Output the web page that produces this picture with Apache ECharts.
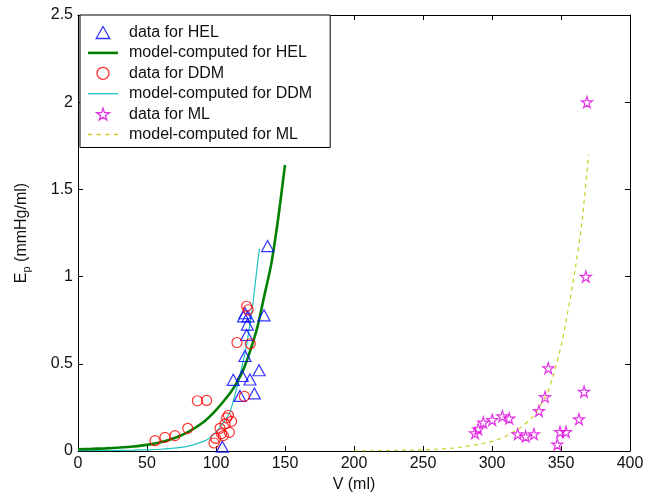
<!DOCTYPE html>
<html>
<head>
<meta charset="utf-8">
<script src="https://cdn.jsdelivr.net/npm/echarts@6/dist/echarts.min.js"></script>
<style>
html,body{margin:0;padding:0;background:#fff;}
#chart{width:650px;height:498px;}
</style>
</head>
<body>
<div id="chart"></div>
<script>
// ---- data ----
var helV  = [137.4, 134.8, 121.0, 120.0, 123.2, 122.7, 122.2, 121.0, 131.2, 119.0, 124.6, 112.5, 127.8, 117.4, 104.6];
var helEp = [1.175, 0.778, 0.790, 0.772, 0.772, 0.725, 0.665, 0.545, 0.463, 0.430, 0.410, 0.408, 0.330, 0.316, 0.025];

var ddmV  = [55.8, 63.0, 70.3, 79.5, 86.5, 93.2, 98.6, 99.8, 102.9, 105.3, 106.5, 107.7, 109.7, 111.3, 109.0, 104.0, 115.2, 124.8, 120.6, 122.2, 123.3];
var ddmEp = [0.059, 0.078, 0.088, 0.130, 0.288, 0.290, 0.046, 0.072, 0.130, 0.088, 0.155, 0.190, 0.107, 0.170, 0.205, 0.100, 0.622, 0.615, 0.313, 0.830, 0.810];

var mlV  = [287.7, 290.0, 293.7, 300.2, 307.5, 312.5, 318.6, 324.4, 330.4, 334.0, 338.4, 340.8, 347.3, 349.3, 353.6, 363.0, 366.7, 368.0, 368.8];
var mlEp = [0.103, 0.126, 0.164, 0.179, 0.200, 0.187, 0.097, 0.084, 0.097, 0.230, 0.310, 0.475, 0.038, 0.110, 0.110, 0.183, 0.340, 1.000, 2.000];

var helCurveV  = [0, 10, 20, 30, 40, 50, 60, 70, 80, 90, 100, 110, 115, 120, 125, 130, 135, 140, 145, 150];
var helCurveEp = [0.010, 0.012, 0.015, 0.020, 0.026, 0.035, 0.050, 0.075, 0.110, 0.160, 0.235, 0.330, 0.390, 0.470, 0.580, 0.710, 0.890, 1.070, 1.330, 1.640];

var ddmCurveV  = [0, 20, 40, 50, 60, 70, 80, 90, 95, 100, 105, 110, 113, 116, 119, 122, 125, 127, 129, 130.5, 131.5];
var ddmCurveEp = [0.002, 0.003, 0.005, 0.007, 0.010, 0.016, 0.028, 0.052, 0.072, 0.110, 0.160, 0.220, 0.300, 0.390, 0.490, 0.600, 0.750, 0.860, 1.000, 1.100, 1.160];

var mlCurveV  = [200, 210, 220, 230, 240, 250, 260, 270, 280, 290, 300, 310, 320, 330, 340, 345, 350, 355, 360, 365, 370];
var mlCurveEp = [0.000, 0.001, 0.002, 0.003, 0.005, 0.007, 0.010, 0.015, 0.025, 0.038, 0.055, 0.085, 0.130, 0.200, 0.330, 0.450, 0.600, 0.800, 1.030, 1.300, 1.700];

var xTicks = {min: 0, max: 400, interval: 50};
var yTicks = {min: 0, max: 2.5, interval: 0.5};

var seriesNames = ['data for HEL', 'model-computed for HEL', 'data for DDM',
                   'model-computed for DDM', 'data for ML', 'model-computed for ML'];

function pairs(xs, ys) { return xs.map(function (x, i) { return [x, ys[i]]; }); }

var STAR = 'path://M50,0 L61,35 L98,35 L68,57 L79,91 L50,70 L21,91 L32,57 L2,35 L39,35 Z';
var TRI = 'path://M50,0 L100,88 L0,88 Z';
var LINE_THICK = 'path://M0,0 L30,0 L30,2.6 L0,2.6 Z';
var LINE_THIN = 'path://M0,0 L30,0 L30,1.3 L0,1.3 Z';
var LINE_DASH = 'path://M0,0 L4,0 L4,1.3 L0,1.3 Z M8.7,0 L12.7,0 L12.7,1.3 L8.7,1.3 Z M17.3,0 L21.3,0 L21.3,1.3 L17.3,1.3 Z M26,0 L30,0 L30,1.3 L26,1.3 Z';
var FONT = 'Liberation Sans, Arial, sans-serif';
var TXT = '#111';
var FS = 16;

var chart = echarts.init(document.getElementById('chart'), null, {renderer: 'canvas'});

function axisCommon(extra) {
  var o = {
    type: 'value',
    axisLine: {show: true, onZero: false, lineStyle: {color: '#000', width: 1}},
    axisTick: {show: true, inside: true, length: 5, lineStyle: {color: '#000'}},
    splitLine: {show: false},
    axisLabel: {color: TXT, fontFamily: FONT, fontSize: FS}
  };
  for (var k in extra) o[k] = extra[k];
  return o;
}

var option = {
  animation: false,
  backgroundColor: '#fff',
  grid: {left: 78, right: 20, top: 15, bottom: 46, containLabel: false},
  xAxis: [
    axisCommon({min: xTicks.min, max: xTicks.max, interval: xTicks.interval, position: 'bottom',
      name: 'V (ml)', nameLocation: 'middle', nameGap: 26,
      nameTextStyle: {color: TXT, fontFamily: FONT, fontSize: FS},
      axisLabel: {color: TXT, fontFamily: FONT, fontSize: FS, margin: 5}}),
    axisCommon({min: xTicks.min, max: xTicks.max, interval: xTicks.interval, position: 'top',
      axisLabel: {show: false}})
  ],
  yAxis: [
    axisCommon({min: yTicks.min, max: yTicks.max, interval: yTicks.interval, position: 'left',
      name: '{a|E}{b|p}{a| (mmHg/ml)}', nameLocation: 'middle', nameGap: 46, nameRotate: 90,
      nameTextStyle: {color: TXT, fontFamily: FONT, fontSize: FS,
        rich: {
          a: {fontFamily: FONT, fontSize: FS, color: TXT, lineHeight: 20},
          b: {fontFamily: FONT, fontSize: 11, color: TXT, lineHeight: 20, verticalAlign: 'bottom'}
        }},
      axisLabel: {color: TXT, fontFamily: FONT, fontSize: FS, margin: 5}}),
    axisCommon({min: yTicks.min, max: yTicks.max, interval: yTicks.interval, position: 'right',
      axisLabel: {show: false}})
  ],
  legend: {
    orient: 'vertical',
    left: 80, top: 15,
    padding: [9.5, 18, 5, 8],
    itemGap: 4.4,
    itemWidth: 30, itemHeight: 12,
    symbolKeepAspect: true,
    backgroundColor: '#fff',
    borderColor: '#000', borderWidth: 1, borderRadius: 0,
    textStyle: {color: TXT, fontFamily: FONT, fontSize: FS, lineHeight: 16, padding: [0, 0, 0, 6]},
    data: [
      {name: seriesNames[0], icon: TRI, itemStyle: {color: 'transparent', borderColor: '#0000ff', borderWidth: 1.3}},
      {name: seriesNames[1], icon: LINE_THICK, itemStyle: {color: '#008000', borderWidth: 0}},
      {name: seriesNames[2], icon: 'circle', itemStyle: {color: 'transparent', borderColor: '#ff0000', borderWidth: 1.3}},
      {name: seriesNames[3], icon: LINE_THIN, itemStyle: {color: '#22c4c4', borderWidth: 0}},
      {name: seriesNames[4], icon: STAR, itemStyle: {color: 'transparent', borderColor: '#dd00dd', borderWidth: 1.3}},
      {name: seriesNames[5], icon: LINE_DASH, itemStyle: {color: '#cccc22', borderWidth: 0}}
    ]
  },
  series: [
    {
      name: seriesNames[3], type: 'line', data: pairs(ddmCurveV, ddmCurveEp),
      showSymbol: false, symbol: 'none', smooth: 0.2, z: 2,
      lineStyle: {color: '#22c4c4', width: 1.2}, itemStyle: {color: '#22c4c4'}
    },
    {
      name: seriesNames[1], type: 'line', data: pairs(helCurveV, helCurveEp),
      showSymbol: false, symbol: 'none', smooth: 0.2, z: 3,
      lineStyle: {color: '#008000', width: 2.6}, itemStyle: {color: '#008000'}
    },
    {
      name: seriesNames[5], type: 'line', data: pairs(mlCurveV, mlCurveEp),
      showSymbol: false, symbol: 'none', smooth: 0.2, z: 2,
      lineStyle: {color: '#cccc22', width: 1.2, type: [4, 4]}, itemStyle: {color: '#cccc22'}
    },
    {
      name: seriesNames[0], type: 'scatter', data: pairs(helV, helEp),
      symbol: TRI, symbolSize: [12, 11], z: 4,
      itemStyle: {color: 'transparent', borderColor: '#0000ff', borderWidth: 1.2}
    },
    {
      name: seriesNames[2], type: 'scatter', data: pairs(ddmV, ddmEp),
      symbol: 'circle', symbolSize: 10, z: 4,
      itemStyle: {color: 'transparent', borderColor: '#ff0000', borderWidth: 1.2}
    },
    {
      name: seriesNames[4], type: 'scatter', data: pairs(mlV, mlEp),
      symbol: STAR, symbolSize: 11, z: 4,
      itemStyle: {color: 'transparent', borderColor: '#dd00dd', borderWidth: 1.2}
    }
  ]
};

chart.setOption(option);
</script>
</body>
</html>
